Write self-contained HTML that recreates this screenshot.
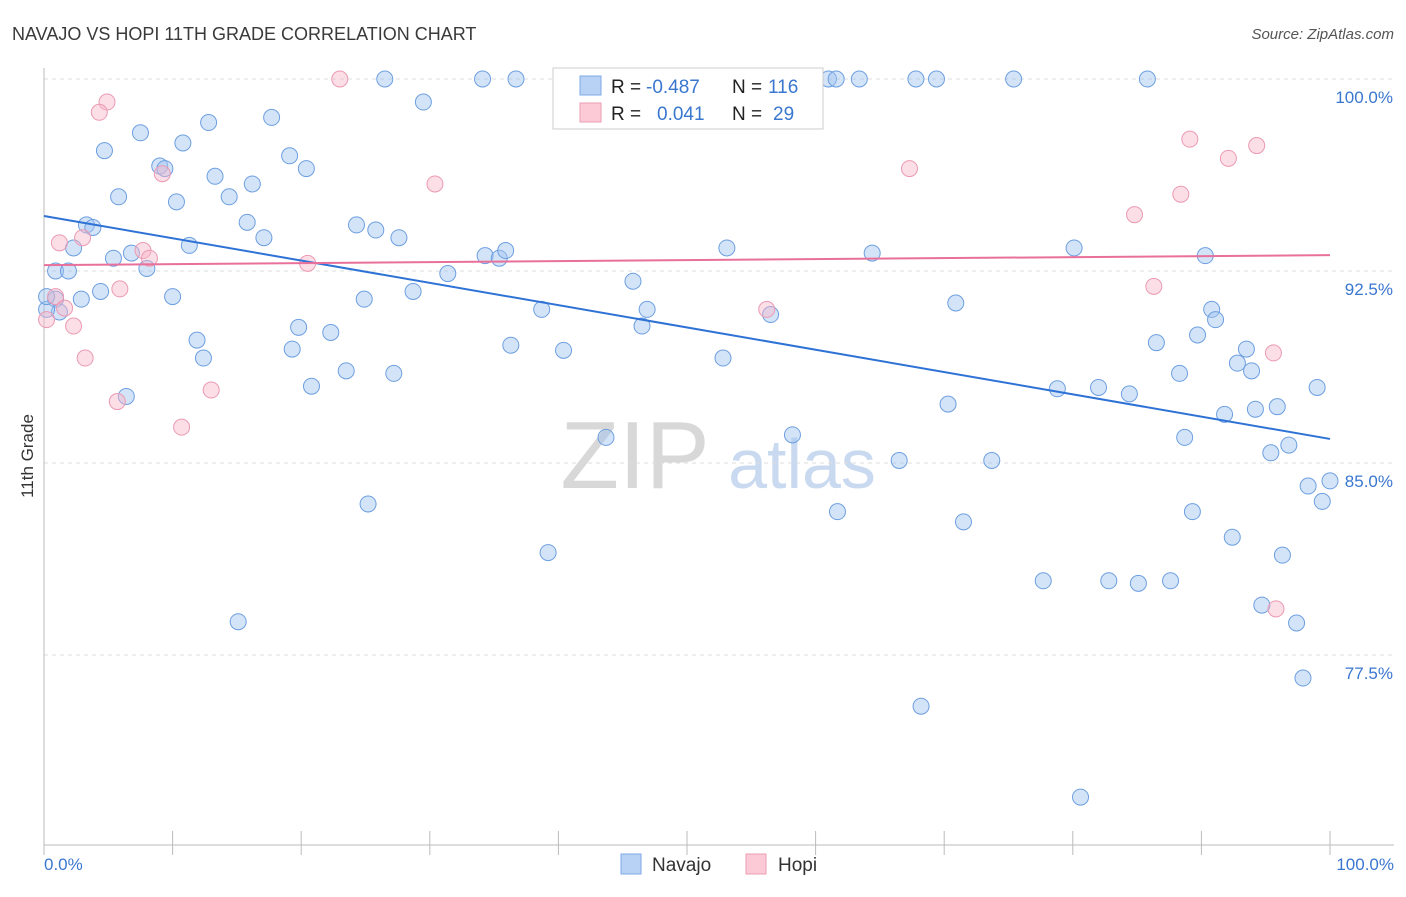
<!DOCTYPE html>
<html><head><meta charset="utf-8"><style>
body{margin:0;background:#fff;font-family:"Liberation Sans",sans-serif}
svg text{font-family:"Liberation Sans",sans-serif}
</style></head><body>
<svg id="chart" width="1406" height="892" xmlns="http://www.w3.org/2000/svg">
<text x="12" y="40" font-size="18" fill="#3a3a3a">NAVAJO VS HOPI 11TH GRADE CORRELATION CHART</text>
<text x="1394" y="39" font-size="15" fill="#555" text-anchor="end" font-style="italic">Source: ZipAtlas.com</text>
<g>
<text x="635" y="488" font-size="96" fill="#d8d8d8" text-anchor="middle" font-family="Liberation Serif,serif">ZIP</text>
<text x="802" y="488" font-size="70" fill="#c9daf0" text-anchor="middle">atlas</text>
</g>
<g id="grid"></g>
<g id="axes"></g>
<g id="pts"></g>
<g id="trends"></g>
<text transform="translate(33,456) rotate(-90)" font-size="17" fill="#333" text-anchor="middle">11th Grade</text>
<g>
<rect x="553" y="68" width="270" height="61" fill="#fff" stroke="#ccc"/>
<rect x="580" y="76" width="21" height="19" fill="#b8d2f5" stroke="#7faae6"/>
<rect x="580" y="103" width="21" height="19" fill="#fcc9d7" stroke="#ee9db5"/>
<text x="611" y="93" font-size="19" fill="#222">R =</text>
<text x="646" y="93" font-size="19" fill="#3a77cf">-0.487</text>
<text x="732" y="93" font-size="19" fill="#222">N =</text>
<text x="768" y="93" font-size="19" fill="#3a77cf">116</text>
<text x="611" y="120" font-size="19" fill="#222">R =</text>
<text x="657" y="120" font-size="19" fill="#3a77cf">0.041</text>
<text x="732" y="120" font-size="19" fill="#222">N =</text>
<text x="773" y="120" font-size="19" fill="#3a77cf">29</text>
</g>
<g>
<rect x="621" y="854" width="20" height="20" fill="#b8d2f5" stroke="#7faae6"/>
<text x="652" y="871" font-size="19" fill="#333">Navajo</text>
<rect x="746" y="854" width="20" height="20" fill="#fcc9d7" stroke="#ee9db5"/>
<text x="778" y="871" font-size="19" fill="#333">Hopi</text>
</g>
</svg>
<script>
const yTicks=[100,92.5,85,77.5];
const yTickLabels=["100.0%","92.5%","85.0%","77.5%"];
const xTickLabels=["0.0%","100.0%"];
const navajoX=[26.5,34.1,36.7,52.4,61.0,61.6,63.4,67.8,69.4,75.4,85.8,29.5,7.5,12.8,17.7,4.7,10.8,19.1,9.0,9.4,20.4,13.3,16.2,5.8,10.3,14.4,15.8,3.3,3.8,24.3,25.8,17.1,27.6,2.3,11.3,6.8,5.4,8.0,0.9,1.9,34.3,35.4,35.9,53.1,64.4,80.1,90.3,31.4,45.8,4.4,10.0,2.9,24.9,28.7,0.9,1.2,38.7,46.9,70.9,90.8,91.1,46.5,56.5,19.8,22.3,11.9,19.3,12.4,36.3,40.4,52.8,86.5,89.7,93.5,92.8,93.9,23.5,27.2,20.8,6.4,78.8,82.0,84.4,88.3,99.0,70.3,91.8,94.2,95.9,43.7,58.2,88.7,96.8,95.4,66.5,73.7,98.3,100,99.4,25.2,61.7,71.5,89.3,39.2,92.4,96.3,77.7,82.8,85.1,87.6,94.7,15.1,97.4,97.9,68.2,80.6,0.2,0.2];
const navajoY=[100,100,100,100,100,100,100,100,100,100,100,99.1,97.9,98.3,98.5,97.2,97.5,97.0,96.6,96.5,96.5,96.2,95.9,95.4,95.2,95.4,94.4,94.3,94.2,94.3,94.1,93.8,93.8,93.4,93.5,93.2,93.0,92.6,92.5,92.5,93.1,93.0,93.3,93.4,93.2,93.4,93.1,92.4,92.1,91.7,91.5,91.4,91.4,91.7,91.4,90.9,91.0,91.0,91.25,91.0,90.6,90.35,90.8,90.3,90.1,89.8,89.45,89.1,89.6,89.4,89.1,89.7,90.0,89.45,88.9,88.6,88.6,88.5,88.0,87.6,87.9,87.95,87.7,88.5,87.95,87.3,86.9,87.1,87.2,86.0,86.1,86.0,85.7,85.4,85.1,85.1,84.1,84.3,83.5,83.4,83.1,82.7,83.1,81.5,82.1,81.4,80.4,80.4,80.3,80.4,79.45,78.8,78.75,76.6,75.5,71.95,91.0,91.5];
const hopiX=[23.0,4.9,4.3,9.2,30.4,67.3,89.1,92.1,94.3,88.4,84.8,1.2,3.0,7.7,8.2,20.5,5.9,0.9,1.6,2.3,3.2,56.2,86.3,95.6,13.0,5.7,10.7,95.8,0.2];
const hopiY=[100,99.1,98.7,96.3,95.9,96.5,97.65,96.9,97.4,95.5,94.7,93.6,93.8,93.3,93.0,92.8,91.8,91.5,91.05,90.35,89.1,91.0,91.9,89.3,87.85,87.4,86.4,79.3,90.6];
const navajoTrend=[94.65,85.94];
const hopiTrend=[92.73,93.12];
const NS="http://www.w3.org/2000/svg";
const sx=v=>44+v*12.86;
const sy=v=>79+(100-v)*25.6;
function mk(t,a,p){const e=document.createElementNS(NS,t);for(const k in a)e.setAttribute(k,a[k]);document.getElementById(p).appendChild(e);return e;}
yTicks.forEach((t,i)=>{
 const l=mk('line',{x1:44,x2:1394,y1:sy(t),y2:sy(t),stroke:'#ddd','stroke-dasharray':'4,4'},'grid');
 
 
 const tx=mk('text',{x:1393,y:sy(t)+24,'font-size':17,fill:'#3a77cf','text-anchor':'end'},'axes');
 tx.textContent=yTickLabels[i];
 
 
});
mk('line',{x1:44,x2:44,y1:68,y2:845,stroke:'#bbb'},'axes');
mk('line',{x1:44,x2:1394,y1:845,y2:845,stroke:'#bbb'},'axes');
for(let i=0;i<=10;i++){const t=mk('line',{x1:sx(i*10),x2:sx(i*10),y1:831,y2:855,stroke:'#bbb'},'axes');
 
 }
[[0,'start',44],[1,'end',1394]].forEach(([i,a,x])=>{const t=mk('text',{x:x,y:870,'font-size':17,fill:'#3a77cf','text-anchor':a},'axes');t.textContent=xTickLabels[i];
 
 });
navajoX.forEach((x,i)=>{const c=mk('circle',{cx:sx(x),cy:sy(navajoY[i]),r:8,fill:'rgba(160,195,240,0.45)',stroke:'#6d9fe0','stroke-width':1},'pts');
 
 });
hopiX.forEach((x,i)=>{const c=mk('circle',{cx:sx(x),cy:sy(hopiY[i]),r:8,fill:'rgba(248,182,202,0.45)',stroke:'#eb9ab3','stroke-width':1},'pts');
 
 });
const t1=mk('line',{x1:sx(0),x2:sx(100),y1:sy(navajoTrend[0]),y2:sy(navajoTrend[1]),stroke:'#2e72d6','stroke-width':2},'trends');


const t2=mk('line',{x1:sx(0),x2:sx(100),y1:sy(hopiTrend[0]),y2:sy(hopiTrend[1]),stroke:'#e8709a','stroke-width':2},'trends');


</script>
</body></html>
